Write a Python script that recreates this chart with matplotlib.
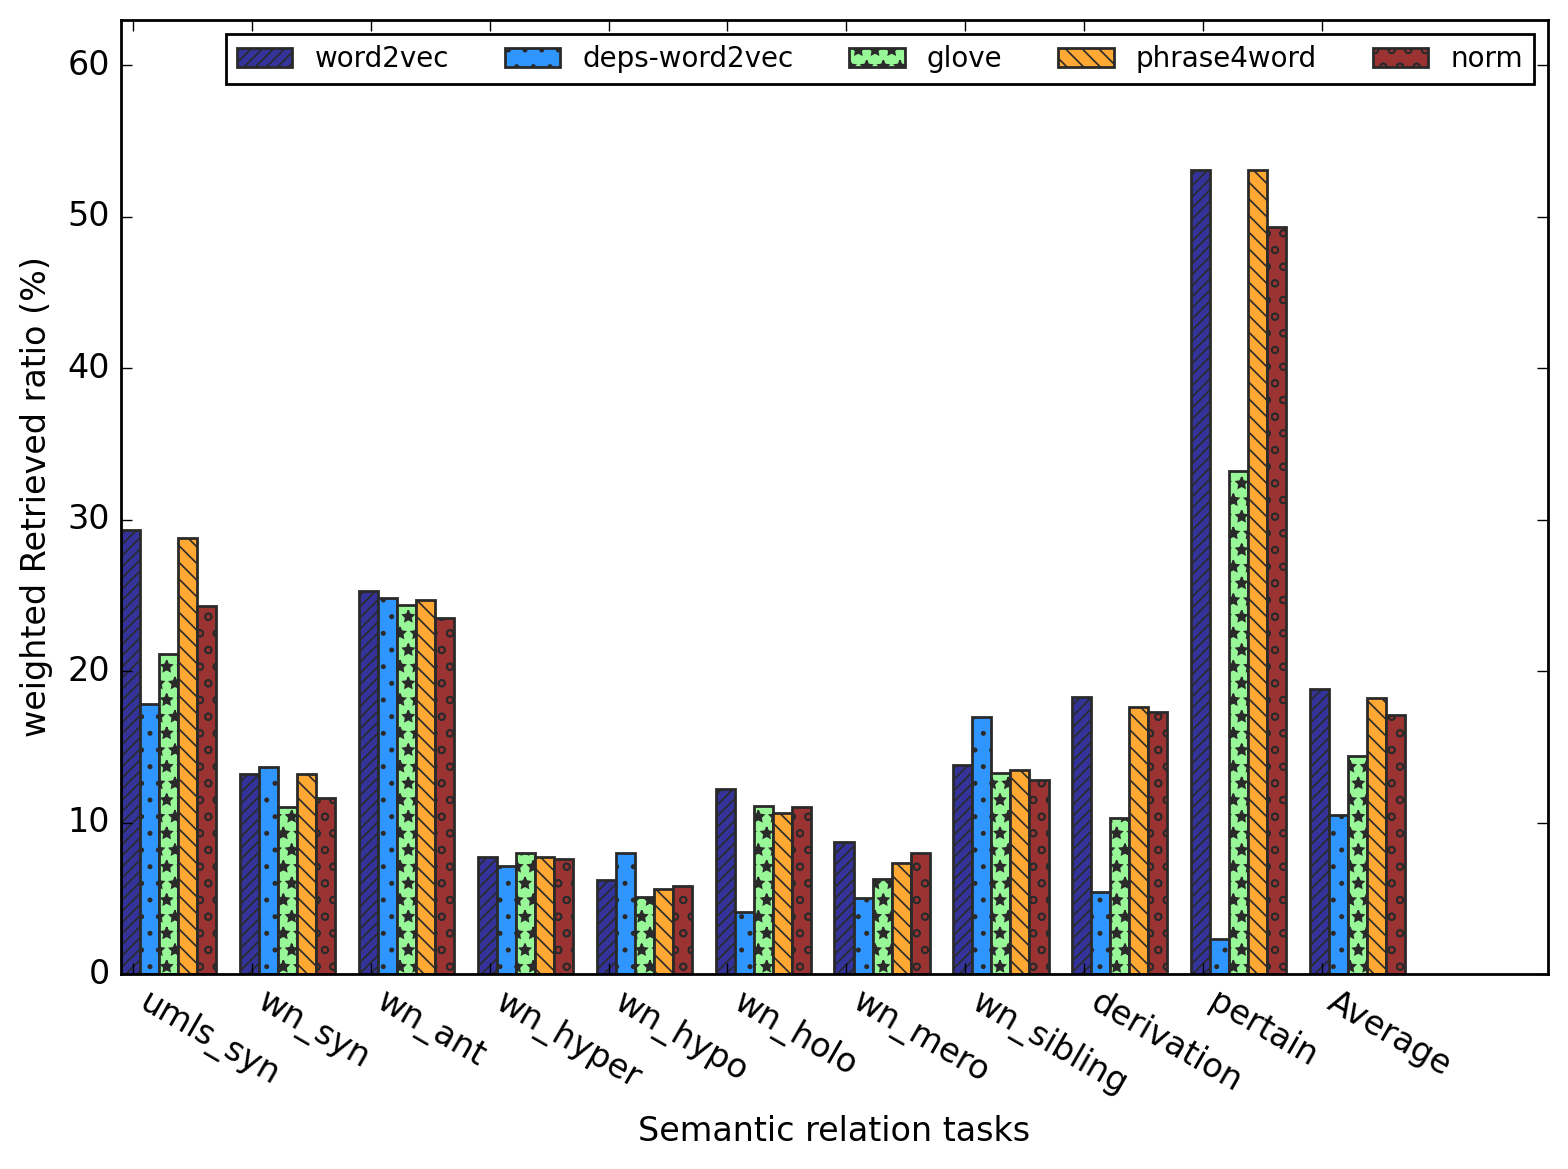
import numpy as np
import matplotlib
matplotlib.use("Agg")
import matplotlib.pyplot as plt

plt.style.use("classic")
plt.rcParams['font.family'] = ['DejaVu Sans']
plt.rcParams['hatch.linewidth'] = 0.6

categories = ["umls_syn", "wn_syn", "wn_ant", "wn_hyper", "wn_hypo", "wn_holo",
              "wn_mero", "wn_sibling", "derivation", "pertain", "Average"]
series_names = ["word2vec", "deps-word2vec", "glove", "phrase4word", "norm"]
word2vec = [29.3, 13.2, 25.3, 7.7, 6.2, 12.2, 8.7, 13.8, 18.3, 53.1, 18.8]
deps_word2vec = [17.8, 13.7, 24.8, 7.1, 8.0, 4.1, 5.0, 17.0, 5.4, 2.3, 10.5]
glove = [21.1, 11.0, 24.4, 8.0, 5.1, 11.1, 6.3, 13.3, 10.3, 33.2, 14.4]
phrase4word = [28.8, 13.2, 24.7, 7.7, 5.6, 10.6, 7.3, 13.5, 17.6, 53.1, 18.2]
norm = [24.3, 11.6, 23.5, 7.6, 5.8, 11.0, 8.0, 12.8, 17.3, 49.3, 17.1]
series = [word2vec, deps_word2vec, glove, phrase4word, norm]

colors = ["#333399", "#2f96ff", "#98f898", "#ffa833", "#9c3333"]
hatches = ["//////", "..", "**", "\\\\\\\\", "oo"]

fig = plt.figure(figsize=(7.84, 5.845), dpi=200, facecolor="white")
ax = fig.add_axes([0.0772, 0.1668, 0.91, 0.8161])

ind = np.arange(len(categories))
width = 0.16
for k, (name, vals) in enumerate(zip(series_names, series)):
    ax.bar(ind + k * width, vals, width, align="edge", color=colors[k],
           edgecolor="#2a2a2a", linewidth=1.0, hatch=hatches[k], label=name)

ax.set_xlim(0, 12)
ax.set_ylim(0, 63)
ax.set_yticks(np.arange(0, 61, 10))
ax.set_xticks(ind + 0.1)
ax.set_xticklabels(categories, rotation=-30, ha="left", fontsize=12)
ax.tick_params(axis="y", labelsize=12)
ax.set_xlabel("Semantic relation tasks", fontsize=12)
ax.set_ylabel("weighted Retrieved ratio (%)", fontsize=12)
ax.legend(loc="upper right", ncol=5, fontsize=10)

fig.savefig("out.png", dpi=200, facecolor="white")
